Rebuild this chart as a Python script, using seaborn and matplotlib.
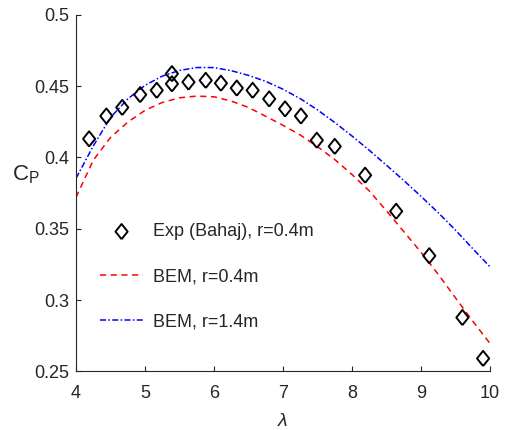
import matplotlib
matplotlib.use("Agg")
import matplotlib.pyplot as plt
import seaborn as sns
import pandas as pd

# experimental points (Bahaj), r=0.4m
exp_tsr = [4.19, 4.44, 4.67, 4.93, 5.17, 5.39, 5.39, 5.63, 5.88, 6.10, 6.33,
           6.56, 6.80, 7.03, 7.26, 7.49, 7.75, 8.19, 8.64, 9.12, 9.60, 9.90]
exp_cp = [0.413, 0.429, 0.435, 0.444, 0.447, 0.4516, 0.4587, 0.4528, 0.454, 0.452, 0.4486,
          0.447, 0.441, 0.434, 0.429, 0.412, 0.4077, 0.3875, 0.3622, 0.331, 0.2877, 0.259]

# BEM curves
bem_tsr = [4.0, 4.25, 4.5, 4.75, 5.0, 5.25, 5.5, 5.75, 6.0, 6.25, 6.5, 6.75, 7.0,
           7.25, 7.5, 7.75, 8.0, 8.25, 8.5, 8.75, 9.0, 9.25, 9.5, 9.75, 10.0]
bem_cp_04 = [0.372, 0.398, 0.414, 0.4247, 0.433, 0.4385, 0.4418, 0.443, 0.4425, 0.4395,
             0.435, 0.4288, 0.4225, 0.4157, 0.4075, 0.3985, 0.388, 0.3765, 0.3625, 0.348,
             0.3335, 0.318, 0.3015, 0.2852, 0.2695]
bem_cp_14 = [0.3853, 0.408, 0.428, 0.441, 0.4505, 0.457, 0.461, 0.463, 0.463, 0.4608,
             0.4575, 0.4533, 0.4478, 0.4412, 0.4333, 0.4245, 0.415, 0.405, 0.3945, 0.3838,
             0.3727, 0.3612, 0.349, 0.336, 0.3233]

sns.set_style("white")
plt.rcParams['font.family'] = ['Liberation Sans', 'DejaVu Sans']
grey = "#262626"

fig = plt.figure(figsize=(5.05, 4.3), dpi=100)
ax = fig.add_axes([0.1505, 0.1365, 0.8198, 0.8291])

diamond = [(0, -1), (0.8, 0), (0, 1), (-0.8, 0), (0, -1)]
sns.scatterplot(x=exp_tsr, y=exp_cp, ax=ax, marker=diamond, s=120,
                facecolor="none", edgecolor="black", linewidth=1.4,
                label="Exp (Bahaj), r=0.4m", zorder=3)

bem = pd.DataFrame({"tsr": bem_tsr, "r04": bem_cp_04, "r14": bem_cp_14})
sns.lineplot(data=bem, x="tsr", y="r04", ax=ax, color="red", lw=1.1,
             linestyle=(0, (4, 3)), label="BEM, r=0.4m")
sns.lineplot(data=bem, x="tsr", y="r14", ax=ax, color="blue", lw=1.1,
             linestyle=(0, (4, 1.5, 1, 1.5)), label="BEM, r=1.4m")

ax.set_xlim(4, 10)
ax.set_ylim(0.25, 0.5)
ax.set_xticks([4, 5, 6, 7, 8, 9, 10])
ax.set_yticks([0.25, 0.3, 0.35, 0.4, 0.45, 0.5])
ax.set_yticklabels(["0.25", "0.3", "0.35", "0.4", "0.45", "0.5"])
sns.despine(ax=ax)
for s in ["left", "bottom"]:
    ax.spines[s].set_color(grey)
    ax.spines[s].set_linewidth(0.8)
ax.tick_params(bottom=True, left=True, direction="in", length=3.5, width=0.8,
               colors=grey, labelsize=13, pad=5)
ax.tick_params(axis="x", pad=10)

ax.set_xlabel("λ", fontsize=14, fontstyle="italic", color=grey, labelpad=8)
ax.set_ylabel(r"$\mathregular{C_P}$", fontsize=16, color=grey, rotation=0)
ax.yaxis.set_label_coords(-0.12, 0.52)

ax.legend(loc="center left", bbox_to_anchor=(0.037, 0.265), frameon=False,
          fontsize=13, labelspacing=1.55, handlelength=2.35, handletextpad=0.55,
          borderpad=0, labelcolor=grey)

fig.savefig("out.png", dpi=100)
